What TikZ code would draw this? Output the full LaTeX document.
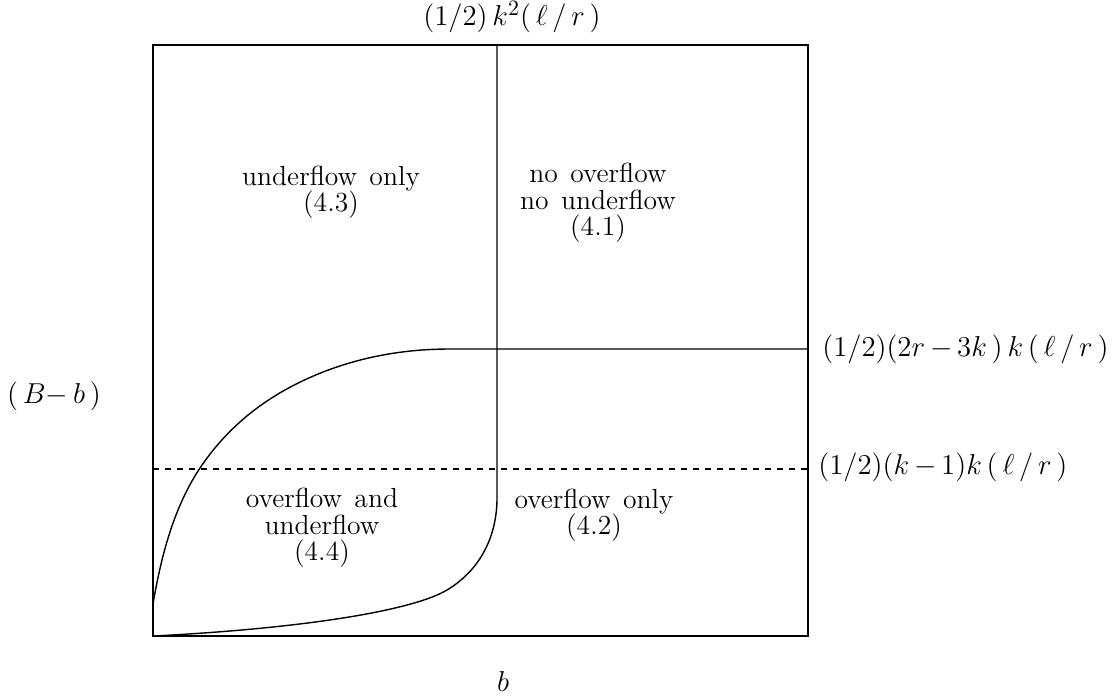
\documentclass[tikz,border=0pt]{standalone}
\usepackage{fontspec}
\begin{document}
\begin{tikzpicture}[x=0.5pt,y=-0.5pt,
  frame/.style={line width=1.4pt},
  curve/.style={line width=0.7pt},
  region/.style={align=center,font=\fontsize{13.8}{13.2}\selectfont,inner sep=0pt},
  mlabel/.style={font=\fontsize{15.5}{17}\selectfont,inner sep=0pt}]
\useasboundingbox (0,0) rectangle (1113,698);
% frame
\draw[frame] (153,45) rectangle (808,636);
% dashed level
\draw[line width=0.7pt,dash pattern=on 3pt off 3pt] (153,469) -- (808,469);
% curve 1 (underflow boundary)
\draw[curve] (153,604) .. controls (161,557) and (173.4,508) .. (200,468)
  .. controls (217.8,441.4) and (240.4,418.8) .. (267,401)
  .. controls (298.6,379.9) and (335.8,365) .. (373,357)
  .. controls (398.4,351.5) and (424,349) .. (450,349) -- (808,349);
% curve 2 (overflow boundary)
\draw[curve] (497,45) -- (497,498) .. controls (497,535) and (481.3,569.4) .. (447,590)
  .. controls (412.7,610.6) and (303,628.5) .. (153,636);
% labels
\node[mlabel] (top) at (512,17) {$(1/2)\,k^2(\,\ell\,/\,r\,)$};
\node[mlabel,anchor=west] (l1) at (822,349) {$(1/2)(2r\,{-}\,3k\,)\,k\,(\,\ell\,/\,r\,)$};
\node[mlabel,anchor=west] (l2) at (818,467) {$(1/2)(k\,{-}\,1)k\,(\,\ell\,/\,r\,)$};
\node[mlabel] (yl) at (54,396) {$(\,B{-}\,b\,)$};
\node[mlabel] (xl) at (503,681) {$b$};
\node[region] (r43) at (331,192) {underflow\hspace{0.45em}only\\(4.3)};
\node[region] (r41) at (598,203) {no\hspace{0.45em}overflow\\no\hspace{0.45em}underflow\\(4.1)};
\node[region] (r44) at (322,528) {overflow\hspace{0.45em}and\\underflow\\(4.4)};
\node[region] (r42) at (594,515) {overflow\hspace{0.45em}only\\(4.2)};
\end{tikzpicture}
\end{document}
